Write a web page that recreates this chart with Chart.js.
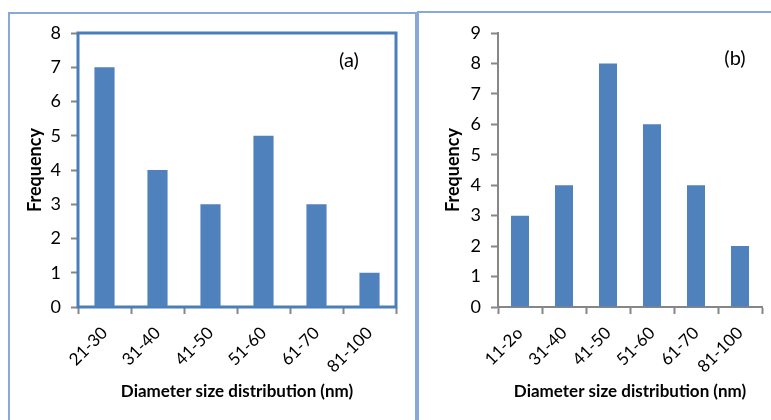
<!DOCTYPE html>
<html>
<head>
<meta charset="utf-8">
<script src="https://cdn.jsdelivr.net/npm/chart.js@4"></script>
<style>
  html, body { margin: 0; padding: 0; background: #fff; }
  body { width: 771px; height: 420px; position: relative; overflow: hidden; }
  .frame { position: absolute; border: 2px solid #86a9d8; border-bottom: none; box-sizing: border-box; }
  #frameA { left: 8px; top: 12px; width: 409px; height: 420px; }
  #frameB { left: 417px; top: 11px; width: 400px; height: 420px; border-right: none; }
  .box { position: absolute; top: 0; height: 420px; }
  #boxA { left: 0; width: 416px; }
  #boxB { left: 416px; width: 355px; }
</style>
</head>
<body>
<div class="frame" id="frameA"></div>
<div class="frame" id="frameB"></div>
<div class="box" id="boxA"><canvas id="chartA"></canvas></div>
<div class="box" id="boxB"><canvas id="chartB"></canvas></div>
<script>
const labelsA = ["21-30", "31-40", "41-50", "51-60", "61-70", "81-100"];
const valuesA = [7, 4, 3, 5, 3, 1];
const labelsB = ["11-2o", "31-40", "41-50", "51-60", "61-70", "81-100"];
const valuesB = [3, 4, 8, 6, 4, 2];

const xTitle = "Diameter size distribution (nm)";
const yTitle = "Frequency";

Chart.defaults.font.family = "Lato, 'Open Sans', sans-serif";
Chart.defaults.color = "#000";

const axisGray = "#868686";
const barBlue = "#4f81bd";

// thick blue frame round the plot area of (a) + the (a)/(b) tag
const panelDeco = {
  id: "panelDeco",
  beforeDatasetsDraw(chart, args, opts) {
    const { ctx, chartArea: a } = chart;
    if (opts.frame) {
      ctx.save();
      ctx.strokeStyle = "#4a7ebb";
      ctx.lineWidth = 3;
      ctx.strokeRect(a.left, a.top, a.right - a.left, a.bottom - a.top);
      ctx.restore();
    }
  },
  afterDraw(chart, args, opts) {
    const { ctx } = chart;
    ctx.save();
    ctx.fillStyle = "#000";
    ctx.font = "20px Lato, sans-serif";
    ctx.textAlign = "center";
    ctx.textBaseline = "middle";
    ctx.fillText(opts.tag, opts.tagX, opts.tagY);
    ctx.restore();
  },
};

function makeChart(id, labels, values, o) {
  return new Chart(document.getElementById(id), {
    type: "bar",
    data: {
      labels: labels,
      datasets: [{ data: values, backgroundColor: barBlue, categoryPercentage: 1, barPercentage: o.barPct }],
    },
    plugins: [panelDeco],
    options: {
      responsive: true,
      maintainAspectRatio: false,
      animation: false,
      layout: { padding: { top: 33, right: o.padRight, left: 0, bottom: 0 } },
      scales: {
        x: {
          grid: { drawOnChartArea: false, tickLength: 7, tickColor: axisGray, tickWidth: 2, offset: true },
          border: { color: axisGray, width: 2 },
          ticks: { font: { size: 17 }, minRotation: 45, maxRotation: 45, padding: 9 },
          title: { display: true, text: xTitle, font: { size: 17, weight: "bold" }, padding: { top: 0, bottom: 18 } },
          afterFit: (s) => { s.height = 113; },
        },
        y: {
          min: 0,
          max: o.max,
          grid: { drawOnChartArea: false, tickLength: 7, tickColor: axisGray, tickWidth: 2 },
          border: { color: axisGray, width: 2 },
          ticks: { stepSize: 1, font: { size: 18 }, padding: 10 },
          title: { display: true, text: yTitle, font: { size: 18, weight: "bold" }, padding: { top: o.yTitlePad, bottom: 0 } },
          afterFit: (s) => { s.width = o.yWidth; },
        },
      },
      plugins: {
        legend: { display: false },
        tooltip: { enabled: false },
        panelDeco: { frame: o.frame, tag: o.tag, tagX: o.tagX, tagY: o.tagY },
      },
    },
  });
}

makeChart("chartA", labelsA, valuesA, {
  max: 8, barPct: 0.38, padRight: 20, yWidth: 78, yTitlePad: 24,
  frame: true, tag: "(a)", tagX: 349, tagY: 61,
});
makeChart("chartB", labelsB, valuesB, {
  max: 9, barPct: 0.41, padRight: 9, yWidth: 82, yTitlePad: 26,
  frame: false, tag: "(b)", tagX: 319, tagY: 59,
});
</script>
</body>
</html>
